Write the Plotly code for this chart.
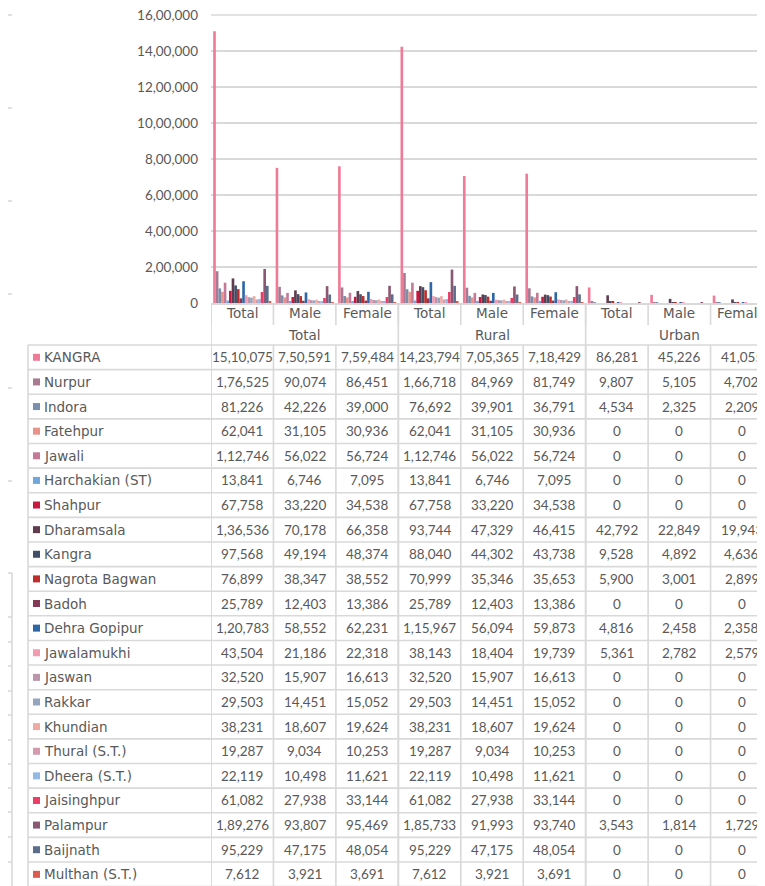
import plotly.graph_objects as go

# column headers: residence group x sex
groups = ["Total", "Rural", "Urban"]
sexes = ["Total", "Male", "Female"]

areas = [
    "KANGRA", "Nurpur", "Indora", "Fatehpur", "Jawali", "Harchakian (ST)",
    "Shahpur", "Dharamsala", "Kangra", "Nagrota Bagwan", "Badoh",
    "Dehra Gopipur", "Jawalamukhi", "Jaswan", "Rakkar", "Khundian",
    "Thural (S.T.)", "Dheera (S.T.)", "Jaisinghpur", "Palampur", "Baijnath",
    "Multhan (S.T.)",
]

total_total = [1510075, 176525, 81226, 62041, 112746, 13841, 67758, 136536, 97568, 76899, 25789,
               120783, 43504, 32520, 29503, 38231, 19287, 22119, 61082, 189276, 95229, 7612]
total_male = [750591, 90074, 42226, 31105, 56022, 6746, 33220, 70178, 49194, 38347, 12403,
              58552, 21186, 15907, 14451, 18607, 9034, 10498, 27938, 93807, 47175, 3921]
total_female = [759484, 86451, 39000, 30936, 56724, 7095, 34538, 66358, 48374, 38552, 13386,
                62231, 22318, 16613, 15052, 19624, 10253, 11621, 33144, 95469, 48054, 3691]
rural_total = [1423794, 166718, 76692, 62041, 112746, 13841, 67758, 93744, 88040, 70999, 25789,
               115967, 38143, 32520, 29503, 38231, 19287, 22119, 61082, 185733, 95229, 7612]
rural_male = [705365, 84969, 39901, 31105, 56022, 6746, 33220, 47329, 44302, 35346, 12403,
              56094, 18404, 15907, 14451, 18607, 9034, 10498, 27938, 91993, 47175, 3921]
rural_female = [718429, 81749, 36791, 30936, 56724, 7095, 34538, 46415, 43738, 35653, 13386,
                59873, 19739, 16613, 15052, 19624, 10253, 11621, 33144, 93740, 48054, 3691]
urban_total = [86281, 9807, 4534, 0, 0, 0, 0, 42792, 9528, 5900, 0,
               4816, 5361, 0, 0, 0, 0, 0, 0, 3543, 0, 0]
urban_male = [45226, 5105, 2325, 0, 0, 0, 0, 22849, 4892, 3001, 0,
              2458, 2782, 0, 0, 0, 0, 0, 0, 1814, 0, 0]
urban_female = [41055, 4702, 2209, 0, 0, 0, 0, 19943, 4636, 2899, 0,
                2358, 2579, 0, 0, 0, 0, 0, 0, 1729, 0, 0]

columns = [total_total, total_male, total_female,
           rural_total, rural_male, rural_female,
           urban_total, urban_male, urban_female]

y_ticks = [0, 200000, 400000, 600000, 800000, 1000000, 1200000, 1400000, 1600000]

colors = [
    "#ef7b97", "#a87a92", "#7b8fad", "#e8928a", "#c47a97", "#70a8dc",
    "#c8183f", "#5f3c4f", "#414f69", "#be2d2a", "#843a57", "#2e67a6",
    "#f39bb0", "#bd95ab", "#96a5be", "#efaaa4", "#d49aae", "#91b9e3",
    "#eb3d66", "#8a5872", "#5c6d8c", "#dd5a4e",
]


def inr(n):
    """Indian digit grouping: 15,10,075"""
    s = str(n)
    if len(s) <= 3:
        return s
    head, tail = s[:-3], s[-3:]
    parts = []
    while len(head) > 2:
        parts.insert(0, head[-2:])
        head = head[:-2]
    if head:
        parts.insert(0, head)
    return ",".join(parts) + "," + tail


# page body has an 8px margin, so the figure is 8px smaller than the window
BODY = 8
W, H = 765, 886                     # window, reference pixel space
PL, PT, PB = 211, 15, 303           # plot area in window pixels
X_MAX = 8.372
NUM_FONT = "Lato"
LBL_FONT = "DejaVu Sans"
TXT = "#595959"
GRID = "#d9d9d9"
ROW0, ROWH = 345, 24.62


def px(x):
    return (x - PL) / (W - PL)


def py(y):
    return (PB - y) / (PB - PT)


cats = list(range(len(columns)))

fig = go.Figure()
for i, name in enumerate(areas):
    fig.add_trace(
        go.Bar(
            x=cats,
            y=[col[i] for col in columns],
            name=name,
            marker=dict(color=colors[i], line_width=0),
        )
    )

shapes = []
annotations = []


def line(x0, y0, x1, y1, xref="paper"):
    shapes.append(dict(type="line", xref=xref, yref="paper",
                       x0=x0, x1=x1, y0=py(y0), y1=py(y1),
                       line=dict(color=GRID, width=1.6)))


def text(x, y, s, xref="x", anchor="center", family=NUM_FONT):
    annotations.append(dict(x=x, y=py(y), xref=xref, yref="paper", text=s,
                            showarrow=False, xanchor=anchor, yanchor="middle",
                            font=dict(family=family, size=13.5, color=TXT)))


table_bottom = ROW0 + ROWH * len(areas)

# header: sex labels, group labels
for c in cats:
    text(c, 313, sexes[c % 3], family=LBL_FONT)
    line(c - 0.5, PB, c - 0.5, 325, xref="x")
for g, name in enumerate(groups):
    text(g * 3 + 1, 335, name, family=LBL_FONT)
    line(g * 3 - 0.5, PB, g * 3 - 0.5, table_bottom, xref="x")

# data rows
for k in range(len(areas) + 1):
    yy = ROW0 + k * ROWH
    line(px(28), yy, 1, yy)
line(px(28), ROW0, px(28), table_bottom)
for c in cats:
    line(c - 0.5, ROW0, c - 0.5, table_bottom, xref="x")

for i, name in enumerate(areas):
    yc = ROW0 + ROWH * (i + 0.5)
    shapes.append(dict(type="rect", xref="paper", yref="paper",
                       x0=px(33), x1=px(40), y0=py(yc - 3.5), y1=py(yc + 3.5),
                       fillcolor=colors[i], line_width=0))
    text(px(42), yc, name, xref="paper", anchor="left", family=LBL_FONT)
    for c in cats:
        text(c, yc, inr(columns[c][i]))

# top gridline (kept explicit, it sits on the plot edge)
line(0, PT, 1, PT)

# remnants of a chart sitting behind on the left edge
for yy in [15, 108, 201, 294, 388, 481]:
    line(px(0), yy, px(12), yy)
line(px(12), 573, px(12), H)
line(px(0), 573, px(12), 573)
for yy in [617, 642, 666, 691, 715, 740, 764, 788, 812, 837, 862]:
    line(px(0), yy, px(12), yy)

fig.update_layout(
    width=W - BODY,
    height=H - BODY,
    margin=dict(l=PL - BODY, r=0, t=PT - BODY, b=H - PB, pad=0),
    barmode="group",
    bargap=0.07,
    bargroupgap=0,
    showlegend=False,
    paper_bgcolor="white",
    plot_bgcolor="white",
    font=dict(family=NUM_FONT, color=TXT, size=13.5),
    shapes=shapes,
    annotations=annotations,
    xaxis=dict(
        range=[-0.5, X_MAX],
        showticklabels=False,
        showgrid=False,
        zeroline=False,
        showline=True,
        linecolor=GRID,
        linewidth=1.6,
        fixedrange=True,
    ),
    yaxis=dict(
        range=[0, 1600000],
        tickvals=y_ticks,
        ticktext=[inr(v) for v in y_ticks],
        showgrid=True,
        gridcolor=GRID,
        gridwidth=1.6,
        zeroline=False,
        ticklabelstandoff=12,
        ticklabeloverflow="allow",
        tickfont=dict(family=NUM_FONT, size=13.5, color=TXT),
        fixedrange=True,
    ),
)

fig.write_html("out.html")
